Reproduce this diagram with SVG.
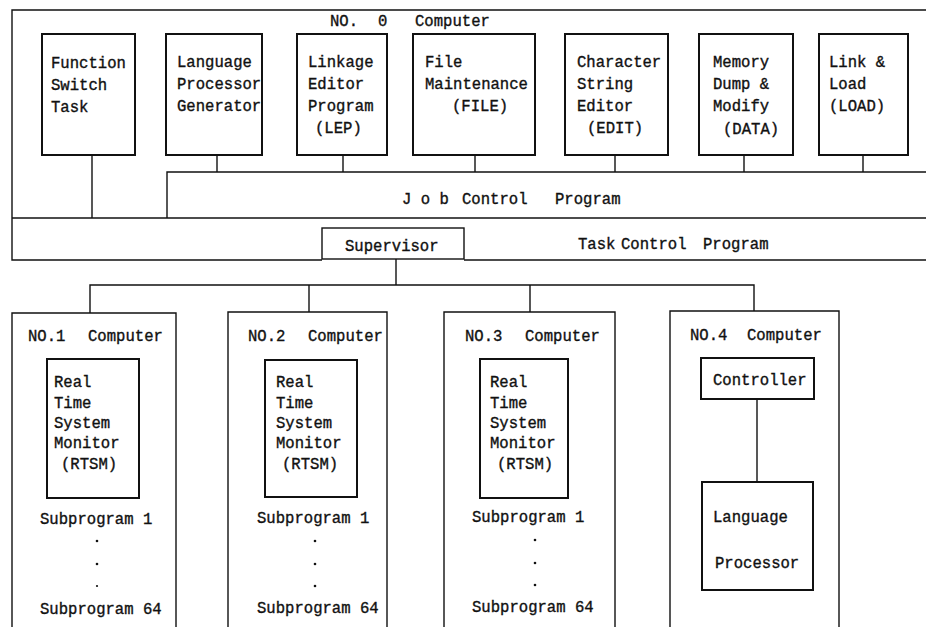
<svg xmlns="http://www.w3.org/2000/svg" width="926" height="627" viewBox="0 0 926 627">
<style>
text{font-family:"Liberation Mono","DejaVu Sans Mono",monospace;font-size:15.6px;fill:#111;stroke:#111;stroke-width:0.35;white-space:pre;}
.b{fill:none;stroke:#111;stroke-width:2;}
.t{fill:none;stroke:#111;stroke-width:1.4;}
.c{fill:none;stroke:#111;stroke-width:1.4;}
.dot{fill:#111;}
</style>
<rect width="926" height="627" fill="#fff"/>
<g id="no0-frame">
<path class="t" d="M926,10 H12 V260 H322"/>
<path class="t" d="M12,218 H926"/>
<path class="t" d="M464,260 H926"/>
<text x="330" y="26">NO.</text><text x="378" y="26">0</text><text x="415" y="26">Computer</text>
</g>
<g id="job-control">
<path class="t" d="M926,172 H167 V218"/>
<text x="402" y="204">J o b</text><text x="462" y="204">Control</text><text x="555" y="204">Program</text>
</g>
<g id="task-control">
<text x="578" y="249">Task</text><text x="621" y="249">Control</text><text x="703" y="249">Program</text>
</g>
<g id="supervisor">
<rect class="t" x="322" y="228" width="142" height="31"/>
<text x="345" y="251">Supervisor</text>
</g>
<g id="fst">
<rect class="b" x="42" y="34" width="93" height="121"/>
<text x="51" y="68">Function</text><text x="51" y="90">Switch</text><text x="51" y="112">Task</text>
</g>
<g id="lpg">
<rect class="b" x="166" y="34" width="96" height="121"/>
<text x="177" y="67">Language</text><text x="177" y="89">Processor</text><text x="177" y="111">Generator</text>
</g>
<g id="lep">
<rect class="b" x="297" y="34" width="90" height="121"/>
<text x="308" y="67">Linkage</text><text x="308" y="89">Editor</text><text x="308" y="111">Program</text><text x="315" y="133">(LEP)</text>
</g>
<g id="file">
<rect class="b" x="413" y="34" width="122" height="121"/>
<text x="425" y="67">File</text><text x="425" y="89">Maintenance</text><text x="452" y="111">(FILE)</text>
</g>
<g id="edit">
<rect class="b" x="565" y="34" width="103" height="121"/>
<text x="577" y="67">Character</text><text x="577" y="89">String</text><text x="577" y="111">Editor</text><text x="587" y="133">(EDIT)</text>
</g>
<g id="data">
<rect class="b" x="699" y="34" width="94" height="121"/>
<text x="713" y="67">Memory</text><text x="713" y="89">Dump &amp;</text><text x="713" y="111">Modify</text><text x="723" y="134">(DATA)</text>
</g>
<g id="load">
<rect class="b" x="819" y="34" width="89" height="121"/>
<text x="829" y="67">Link &amp;</text><text x="829" y="89">Load</text><text x="829" y="111">(LOAD)</text>
</g>
<g id="no1">
<path class="t" d="M12,627 V313 H176 V627"/>
<text x="28" y="341">NO.1</text><text x="88" y="341">Computer</text>
<rect class="b" x="47" y="359" width="92" height="139"/>
<text x="54" y="387">Real</text><text x="54" y="408">Time</text><text x="54" y="428">System</text><text x="54" y="448">Monitor</text><text x="61" y="469">(RTSM)</text>
<text x="40" y="524">Subprogram 1</text>
<circle class="dot" cx="97" cy="541" r="1.3"/><circle class="dot" cx="97" cy="564" r="1.3"/><circle class="dot" cx="97" cy="586" r="1.1"/>
<text x="40" y="614">Subprogram 64</text>
</g>
<g id="no2">
<path class="t" d="M228,627 V312 H387 V627"/>
<text x="248" y="341">NO.2</text><text x="308" y="341">Computer</text>
<rect class="b" x="265" y="360" width="92" height="137"/>
<text x="276" y="387">Real</text><text x="276" y="408">Time</text><text x="276" y="428">System</text><text x="276" y="448">Monitor</text><text x="282" y="469">(RTSM)</text>
<text x="257" y="523">Subprogram 1</text>
<circle class="dot" cx="315" cy="541" r="1.3"/><circle class="dot" cx="315" cy="564" r="1.3"/><circle class="dot" cx="315" cy="586" r="1.3"/>
<text x="257" y="613">Subprogram 64</text>
</g>
<g id="no3">
<path class="t" d="M444,627 V312 H615 V627"/>
<text x="465" y="341">NO.3</text><text x="525" y="341">Computer</text>
<rect class="b" x="480" y="359" width="88" height="139"/>
<text x="490" y="387">Real</text><text x="490" y="408">Time</text><text x="490" y="428">System</text><text x="490" y="448">Monitor</text><text x="497" y="469">(RTSM)</text>
<text x="472" y="522">Subprogram 1</text>
<circle class="dot" cx="535" cy="540" r="1.3"/><circle class="dot" cx="535" cy="563" r="1.3"/><circle class="dot" cx="535" cy="585" r="1.3"/>
<text x="472" y="612">Subprogram 64</text>
</g>
<g id="no4">
<path class="t" d="M670,627 V311 H839 V627"/>
<text x="690" y="340">NO.4</text><text x="747" y="340">Computer</text>
</g>
<g id="controller">
<rect class="b" x="701" y="358" width="113" height="41"/>
<text x="713" y="385">Controller</text>
</g>
<g id="langproc">
<rect class="b" x="702" y="482" width="111" height="108"/>
<text x="713" y="522">Language</text>
<text x="715" y="568">Processor</text>
</g>
<g id="connectors">
<path class="c" d="M92,155 V218"/>
<path class="c" d="M217,155 V172"/>
<path class="c" d="M343,155 V172"/>
<path class="c" d="M475,155 V172"/>
<path class="c" d="M615,155 V172"/>
<path class="c" d="M744,155 V172"/>
<path class="c" d="M863,155 V172"/>
<path class="c" d="M396,259 V285"/>
<path class="c" d="M90,313 V285 H754 V311"/>
<path class="c" d="M309,285 V312"/>
<path class="c" d="M530,285 V312"/>
<path class="c" d="M757,399 V482"/>
</g>
</svg>
